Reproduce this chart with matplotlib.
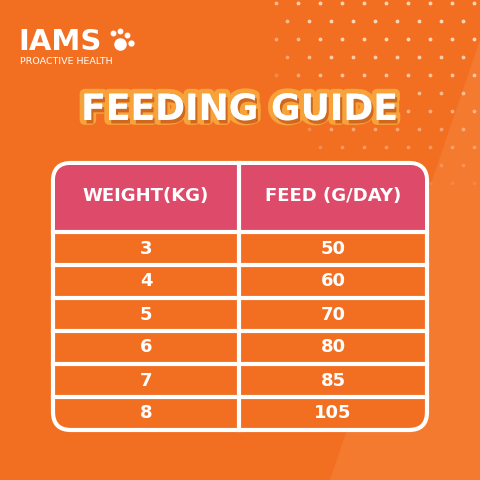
import matplotlib
matplotlib.use('Agg')
import matplotlib.pyplot as plt
from matplotlib.patches import FancyBboxPatch, Rectangle, Polygon
import matplotlib.patheffects as pe
import numpy as np

weights = ['3', '4', '5', '6', '7', '8']
feeds = ['50', '60', '70', '80', '85', '105']
headers = ['WEIGHT(KG)', 'FEED (G/DAY)']

ORANGE = '#F26F22'
PINK = '#DD4A6A'
FONT = 'DejaVu Sans'

fig = plt.figure(figsize=(4.8, 4.8), dpi=100)
ax = fig.add_axes([0, 0, 1, 1])
ax.set_xlim(0, 480)
ax.set_ylim(480, 0)
ax.axis('off')
ax.add_patch(Rectangle((0, 0), 480, 480, color=ORANGE, zorder=0))
ax.add_patch(Polygon([[480, 40], [480, 480], [330, 480]], color='#F47A30', zorder=0))

# dot pattern top right
for i, y in enumerate(np.arange(3, 200, 18)):
    for x in np.arange(276 + (i % 2) * 11, 480, 22):
        fade = max(0.0, 1 - (y / 200) - max(0, (330 - x)) / 120)
        if fade > 0.05:
            ax.plot(x, y, 'o', color='#FFE3C8', ms=1.8, alpha=min(0.8, fade), zorder=1)

# logo
ax.text(18, 42, 'IAMS', color='white', fontsize=21, fontweight='heavy', family=FONT, va='center')
for dx, dy, s in [(113, 33, 3.2), (120, 31, 3.2), (127, 35, 3.2), (131, 43, 3.5), (120, 44, 8)]:
    ax.plot(dx, dy, 'o', color='white', ms=s)
ax.text(20, 61, 'PROACTIVE HEALTH', color='white', fontsize=6.8, family=FONT, va='center')

# title
ax.text(240, 110, 'FEEDING GUIDE', color='white', fontsize=26, fontweight='heavy',
        family=FONT, ha='center', va='center',
        path_effects=[pe.withStroke(linewidth=7, foreground='#F7A23A'),
                      pe.SimplePatchShadow(offset=(1.5, -2.5), shadow_rgbFace='#C85A1A', alpha=0.8),
                      pe.Normal()])

# table
L, R, T, B = 53, 427, 163, 430
ax.add_patch(FancyBboxPatch((L, T), R - L, B - T, boxstyle='round,pad=0,rounding_size=18',
                            fc=ORANGE, ec='white', lw=3, zorder=2))
ax.add_patch(FancyBboxPatch((L + 2, T + 2), R - L - 4, 60, boxstyle='round,pad=0,rounding_size=16',
                            fc=PINK, ec='none', zorder=3))
ax.add_patch(Rectangle((L + 2, T + 30), R - L - 4, 37, fc=PINK, ec='none', zorder=3))
mid = 239
ax.plot([mid, mid], [T, B], color='white', lw=3, zorder=4)
hb = 232
rh = (B - hb) / len(weights)
for k in range(len(weights)):
    ax.plot([L, R], [hb + k * rh, hb + k * rh], color='white', lw=3, zorder=4)
cx = [(L + mid) / 2, (mid + R) / 2]
for j, h in enumerate(headers):
    ax.text(cx[j], 196, h, color='white', fontsize=13, fontweight='heavy', family=FONT,
            ha='center', va='center', zorder=5)
for k, (w, f) in enumerate(zip(weights, feeds)):
    yc = hb + (k + 0.5) * rh
    ax.text(cx[0], yc, w, color='white', fontsize=13, fontweight='heavy', family=FONT,
            ha='center', va='center', zorder=5)
    ax.text(cx[1], yc, f, color='white', fontsize=13, fontweight='heavy', family=FONT,
            ha='center', va='center', zorder=5)

fig.savefig('out.png', dpi=100)
